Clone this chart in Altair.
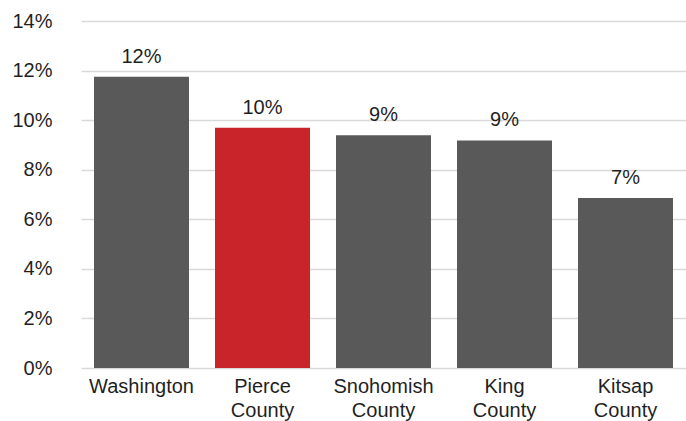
import altair as alt
import pandas as pd

# Share of residents, by area
areas = ["Washington", "Pierce County", "Snohomish County", "King County", "Kitsap County"]
shares = [0.1175, 0.0969, 0.0939, 0.0918, 0.0686]
highlight = ["Pierce County"]

df = pd.DataFrame({"area": areas, "share": shares})
df["hl"] = df["area"].isin(highlight)

FONT = "Liberation Sans"
TEXT = "#1f1f1f"
SIZE = 20

x = alt.X(
    "area:N",
    sort=areas,
    title=None,
    scale=alt.Scale(range=[11, 616], paddingInner=0.215, paddingOuter=0.1075),
    axis=alt.Axis(
        labelAngle=0,
        labelExpr="split(datum.label, ' ')",
        labelFont=FONT,
        labelFontSize=SIZE,
        labelColor=TEXT,
        labelLineHeight=24,
        labelPadding=8,
        ticks=False,
        domain=False,
        grid=False,
    ),
)
y = alt.Y(
    "share:Q",
    title=None,
    scale=alt.Scale(domain=[0, 0.14], nice=False),
    axis=alt.Axis(
        values=[0, 0.02, 0.04, 0.06, 0.08, 0.10, 0.12, 0.14],
        format=".0%",
        labelFont=FONT,
        labelFontSize=SIZE,
        labelColor=TEXT,
        labelPadding=18,
        ticks=False,
        domain=False,
        gridColor="#d9d9d9",
        gridWidth=1.5,
    ),
)

bars = alt.Chart(df).mark_bar().encode(
    x=x,
    y=y,
    color=alt.condition(alt.datum.hl, alt.value("#c8242a"), alt.value("#595959")),
)

labels = alt.Chart(df).mark_text(
    font=FONT, fontSize=SIZE, color=TEXT, baseline="alphabetic", dy=-14
).encode(
    x=alt.X("area:N", sort=areas),
    y="share:Q",
    text=alt.Text("share:Q", format=".0%"),
)

chart = (
    alt.layer(bars, labels)
    .properties(
        width=616,
        height=347,
        autosize=alt.AutoSizeParams(type="none"),
        padding={"left": 70, "top": 21, "right": 0, "bottom": 53},
        view=alt.ViewBackground(strokeWidth=0, strokeOpacity=0),
    )
    .configure_view(strokeWidth=0, strokeOpacity=0)
    .configure_axis(domain=False, ticks=False)
    .configure(background="white")
)

chart.save("out.html", embed_options={"renderer": "svg", "actions": False})
